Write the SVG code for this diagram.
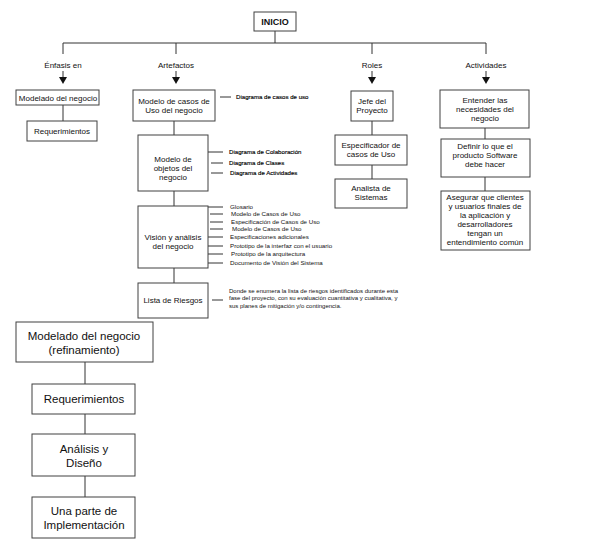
<svg xmlns="http://www.w3.org/2000/svg" width="595" height="549" viewBox="0 0 595 549">
<style>
.box{fill:#fff;stroke:#404040;stroke-width:1}
.ln{stroke:#333;stroke-width:1;fill:none}
.t{font-family:"Liberation Sans",Arial,sans-serif;font-size:8px;fill:#111;text-anchor:middle}
.s{font-family:"Liberation Sans",Arial,sans-serif;font-size:6.2px;fill:#111}
.sb{font-family:"Liberation Sans",Arial,sans-serif;font-size:6.1px;fill:#000;stroke:#000;stroke-width:0.15}
.big{font-family:"Liberation Sans",Arial,sans-serif;font-size:11.5px;fill:#111;text-anchor:middle}
</style>
<defs>
<marker id="ah" markerUnits="userSpaceOnUse" viewBox="0 0 7 8" refX="0" refY="4" markerWidth="7" markerHeight="8" orient="auto">
<path d="M0,0 L7,4 L0,8 z" fill="#111"/>
</marker>
</defs>
<rect width="595" height="549" fill="#fff"/>
<g id="connectors">
<path class="ln" d="M275,30 V43 M63,43 H486 M63,43 V54 M176,43 V54 M372,43 V54 M486,43 V54"/>
<line class="ln" x1="63" y1="71" x2="63" y2="77" marker-end="url(#ah)"/>
<line class="ln" x1="176" y1="71" x2="176" y2="77" marker-end="url(#ah)"/>
<line class="ln" x1="372" y1="71" x2="372" y2="77" marker-end="url(#ah)"/>
<line class="ln" x1="486" y1="71" x2="486" y2="77" marker-end="url(#ah)"/>
<path class="ln" d="M63,105 V121 M174,121 V135 M174,191 V206 M174,268 V283"/>
<path class="ln" d="M220,97 H231 M208,152 H223 M211,163 H223 M211,173 H223"/>
<path class="ln" d="M208,207 H223 M210,214 H223 M210,222 H223 M210,229 H223 M208,237 H223 M208,246 H223 M208,254 H223 M208,263 H223 M212,300 H223"/>
<path class="ln" d="M372,121 V135 M372,165 V179 M485,128 V139 M485,177 V191"/>
<path class="ln" d="M85,362 V384 M85,414 V434 M85,476 V497"/>
</g>
<g id="inicio"><rect class="box" x="254" y="12" width="42" height="19"/><text class="t" x="275" y="25" style="font-weight:bold;font-size:9px">INICIO</text></g>
<g id="lbl-enfasis"><text class="t" x="63" y="68">Énfasis en</text></g>
<g id="lbl-artefactos"><text class="t" x="176" y="68">Artefactos</text></g>
<g id="lbl-roles"><text class="t" x="372" y="68">Roles</text></g>
<g id="lbl-actividades"><text class="t" x="486" y="68">Actividades</text></g>
<g id="modelado"><rect class="box" x="16" y="90" width="83" height="15"/><text class="t" x="58" y="101">Modelado del negocio</text></g>
<g id="requerimientos1"><rect class="box" x="27" y="121" width="70" height="20"/><text class="t" x="62" y="134">Requerimientos</text></g>
<g id="casos-uso"><rect class="box" x="133" y="90" width="82" height="31"/><text class="t" x="174" y="104">Modelo de casos de</text><text class="t" x="174" y="113">Uso del negocio</text></g>
<g id="diag-casos"><text class="sb" x="236" y="99">Diagrama de casos de uso</text></g>
<g id="objetos"><rect class="box" x="138" y="135" width="70" height="56"/><text class="t" x="173" y="162">Modelo de</text><text class="t" x="173" y="171">objetos del</text><text class="t" x="173" y="180">negocio</text></g>
<g id="diag-objetos"><text class="sb" x="229" y="154">Diagrama de Colaboración</text><text class="sb" x="229" y="165">Diagrama de Clases</text><text class="sb" x="230" y="175">Diagrama de Actividades</text></g>
<g id="vision"><rect class="box" x="138" y="206" width="70" height="62"/><text class="t" x="173" y="240">Visión y análisis</text><text class="t" x="173" y="249">del negocio</text></g>
<g id="vision-items">
<text class="s" x="230" y="209">Glosario</text>
<text class="s" x="231" y="216">Modelo de Casos de Uso</text>
<text class="s" x="231" y="224">Especificación de Casos de Uso</text>
<text class="s" x="232" y="231">Modelo de Casos de Uso</text>
<text class="s" x="230" y="239">Especificaciones adicionales</text>
<text class="s" x="230" y="248">Prototipo de la interfaz con el usuario</text>
<text class="s" x="231" y="256">Prototipo de la arquitectura</text>
<text class="s" x="230" y="265">Documento de Visión del Sistema</text>
</g>
<g id="riesgos"><rect class="box" x="138" y="283" width="70" height="35"/><text class="t" x="173" y="303">Lista de Riesgos</text></g>
<g id="riesgos-desc"><text class="s" x="229" y="293" style="font-size:6px">Donde se enumera la lista de riesgos identificados durante esta</text><text class="s" x="229" y="300" style="font-size:6px">fase del proyecto, con su evaluación cuantitativa y cualitativa, y</text><text class="s" x="229" y="308" style="font-size:6px">sus planes de mitigación y/o contingencia.</text></g>
<g id="jefe"><rect class="box" x="351" y="91" width="42" height="30"/><text class="t" x="372" y="104">Jefe del</text><text class="t" x="372" y="113">Proyecto</text></g>
<g id="especificador"><rect class="box" x="335" y="135" width="72" height="30"/><text class="t" x="371" y="148">Especificador de</text><text class="t" x="371" y="157">casos de Uso</text></g>
<g id="analista"><rect class="box" x="335" y="179" width="72" height="29"/><text class="t" x="371" y="191">Analista de</text><text class="t" x="371" y="200">Sistemas</text></g>
<g id="entender"><rect class="box" x="440" y="90" width="89" height="38"/><text class="t" x="485" y="103">Entender las</text><text class="t" x="485" y="112">necesidades del</text><text class="t" x="485" y="121">negocio</text></g>
<g id="definir"><rect class="box" x="441" y="139" width="89" height="38"/><text class="t" x="485" y="149">Definir lo que el</text><text class="t" x="485" y="158">producto Software</text><text class="t" x="485" y="167">debe hacer</text></g>
<g id="asegurar"><rect class="box" x="441" y="191" width="89" height="59"/><text class="t" x="485" y="200">Asegurar que clientes</text><text class="t" x="485" y="209">y usuarios finales de</text><text class="t" x="485" y="218">la aplicación y</text><text class="t" x="485" y="227">desarrolladores</text><text class="t" x="485" y="236">tengan un</text><text class="t" x="485" y="245">entendimiento común</text></g>
<g id="refinamiento"><rect class="box" x="16" y="322" width="137" height="40"/><text class="big" x="84" y="340">Modelado del negocio</text><text class="big" x="84" y="354">(refinamiento)</text></g>
<g id="requerimientos2"><rect class="box" x="32" y="384" width="103" height="30"/><text class="big" x="84" y="403">Requerimientos</text></g>
<g id="analisis"><rect class="box" x="32" y="434" width="103" height="42"/><text class="big" x="84" y="453">Análisis y</text><text class="big" x="84" y="467">Diseño</text></g>
<g id="implementacion"><rect class="box" x="32" y="497" width="103" height="41"/><text class="big" x="84" y="515">Una parte de</text><text class="big" x="84" y="529">Implementación</text></g>
</svg>
